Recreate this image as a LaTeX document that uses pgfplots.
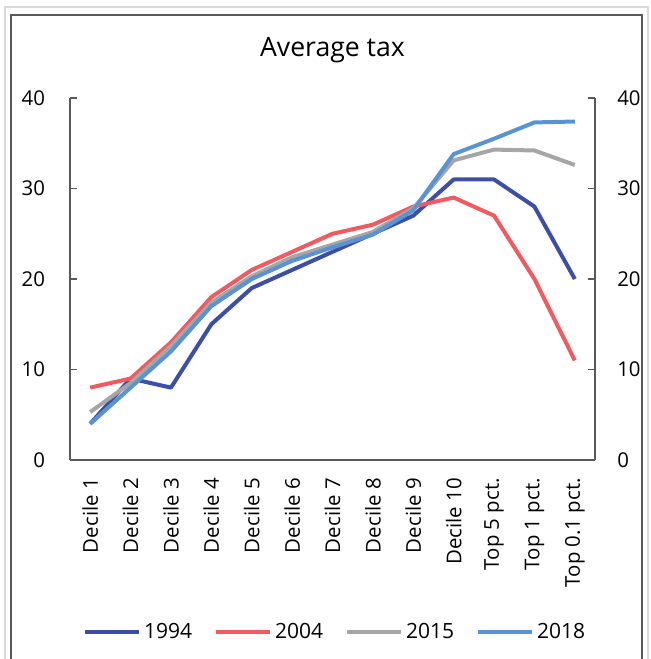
\documentclass[border=0pt]{standalone}
\usepackage{fontspec}
\setmainfont{Open Sans}
\usepackage{pgfplots}
\usepackage{pgfplotstable}
\pgfplotsset{compat=1.18}

\definecolor{c1994}{HTML}{3C4FA5}
\definecolor{c2004}{HTML}{F25A5F}
\definecolor{c2015}{HTML}{A6A6A6}
\definecolor{c2018}{HTML}{5A93D3}
\definecolor{axisgray}{HTML}{595959}

\pgfplotstableread{
x y1994 y2004 y2015 y2018
0  4  8  5.3  4
1  9  9  8.5  8
2  8  13 12.6 12
3  15 18 17.4 17
4  19 21 20.3 20
5  21 23 22.4 22
6  23 25 23.8 23.5
7  25 26 25.2 24.9
8  27 28 27.8 27.6
9  31 29 33.1 33.8
10 31 27 34.3 35.5
11 28 20 34.2 37.3
12 20 11 32.6 37.4
}\taxdata

\begin{document}
\begin{tikzpicture}
\useasboundingbox (0,0) rectangle (325pt,329.5pt);
% frame
\draw[line width=1pt, color=black!15] (2.25pt,-10pt) rectangle (324pt,325.75pt);
\draw[line width=1pt, color=axisgray] (5.25pt,-10pt) rectangle (321pt,322pt);

\node[anchor=base, font=\fontsize{13.3}{16}\selectfont] at (166.25pt,301pt) {Average tax};

\begin{axis}[
    at={(35pt,99.5pt)}, anchor=south west,
    scale only axis, width=262.5pt, height=181pt,
    xmin=-0.5, xmax=12.5, ymin=0, ymax=40,
    axis x line*=bottom, axis y line*=left,
    axis line style={color=axisgray, line width=0.75pt},
    tick align=inside, major tick length=3.5pt,
    tick style={color=axisgray, line width=0.6pt},
    xtick={0,...,12},
    major x tick style={draw=none},
    xticklabels={{Decile 1},{Decile 2},{Decile 3},{Decile 4},{Decile 5},{Decile 6},{Decile 7},{Decile 8},{Decile 9},{Decile 10},{Top 5 pct.},{Top 1 pct.},{Top 0.1 pct.}},
    xticklabel style={rotate=90, anchor=east, xshift=-5.6pt, font=\fontsize{10.2}{12}\selectfont},
    ytick={0,10,20,30,40},
    yticklabel style={xshift=-9pt, font=\fontsize{10.2}{12}\selectfont},
    /pgf/number format/assume math mode=true,
    legend columns=-1,
    legend style={at={(0.506,-0.475)}, anchor=center, draw=none, fill=none,
        font=\fontsize{10.5}{12}\selectfont,
        nodes={inner sep=1.5pt},
        /tikz/every even column/.append style={column sep=9.5pt}},
    legend image code/.code={\draw[#1, line width=2pt] (0pt,0pt) -- (27pt,0pt);},
    every axis plot/.append style={line width=2pt, line join=round, no markers},
]
\addplot[color=c1994] table[x=x, y=y1994] {\taxdata};
\addplot[color=c2004] table[x=x, y=y2004] {\taxdata};
\addplot[color=c2015] table[x=x, y=y2015] {\taxdata};
\addplot[color=c2018] table[x=x, y=y2018] {\taxdata};
\legend{1994,2004,2015,2018}
\end{axis}

\begin{axis}[
    at={(35pt,99.5pt)}, anchor=south west,
    scale only axis, width=262.5pt, height=181pt,
    xmin=-0.5, xmax=12.5, ymin=0, ymax=40,
    axis x line=none, axis y line*=right,
    axis line style={color=axisgray, line width=0.75pt},
    tick align=inside, major tick length=3.5pt,
    tick style={color=axisgray, line width=0.6pt},
    xtick=\empty,
    ytick={0,10,20,30,40},
    yticklabel style={xshift=7.6pt, font=\fontsize{10.2}{12}\selectfont},
    /pgf/number format/assume math mode=true,
]
\end{axis}
\end{tikzpicture}
\end{document}
